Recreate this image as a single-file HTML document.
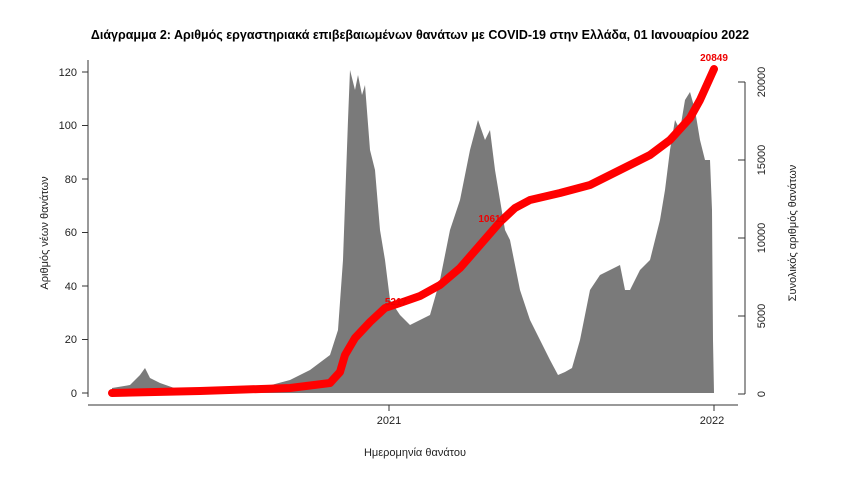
<!DOCTYPE html>
<html><head><meta charset="utf-8"><style>
body{margin:0;background:#fff}
svg text{font-family:"Liberation Sans","DejaVu Sans",sans-serif}
</style></head><body>
<svg width="851" height="475" viewBox="0 0 851 475" xmlns="http://www.w3.org/2000/svg">
<text x="420" y="39" font-size="12.5" font-weight="bold" text-anchor="middle">Διάγραμμα 2: Αριθμός εργαστηριακά επιβεβαιωμένων θανάτων με COVID-19 στην Ελλάδα, 01 Ιανουαρίου 2022</text>
<!-- bars -->
<path fill="#7a7a7a" d="M112,393 L112,388 130,385 140,375 145,368 150,378 160,383 180,390 220,391 260,388 290,380 310,370 330,355 338,330 343,260 348,120 350,70 355,90 358,75 362,95 365,85 370,150 375,170 380,230 385,260 390,300 400,315 410,325 420,320 430,315 440,280 450,230 460,200 470,150 478,120 485,140 490,130 495,170 500,200 505,230 510,240 520,290 530,320 540,340 550,360 558,375 565,372 572,368 580,340 590,290 600,275 610,270 620,265 625,290 630,290 640,270 650,260 660,220 665,190 670,150 675,120 680,130 685,100 690,92 695,110 700,140 705,160 710,160 712,210 713,340 714,393 Z"/>
<!-- left axis -->
<g stroke="#333" stroke-width="1" fill="none">
<line x1="88" y1="60" x2="88" y2="397"/>
<line x1="82" y1="393" x2="88" y2="393"/><line x1="82" y1="339.5" x2="88" y2="339.5"/><line x1="82" y1="286" x2="88" y2="286"/><line x1="82" y1="232.5" x2="88" y2="232.5"/><line x1="82" y1="179" x2="88" y2="179"/><line x1="82" y1="125.5" x2="88" y2="125.5"/><line x1="82" y1="72" x2="88" y2="72"/>
<line x1="745" y1="82" x2="745" y2="394"/>
<line x1="738" y1="394" x2="745" y2="394"/><line x1="738" y1="316" x2="745" y2="316"/><line x1="738" y1="238" x2="745" y2="238"/><line x1="738" y1="160" x2="745" y2="160"/><line x1="738" y1="82" x2="745" y2="82"/>
<line x1="88" y1="405" x2="738" y2="405"/>
<line x1="389" y1="405" x2="389" y2="411"/><line x1="714" y1="405" x2="714" y2="411"/>
</g>
<g font-size="11" text-anchor="end" fill="#222">
<text x="77" y="397">0</text><text x="77" y="343">20</text><text x="77" y="290">40</text><text x="77" y="236">60</text><text x="77" y="183">80</text><text x="77" y="129">100</text><text x="77" y="76">120</text>
</g>
<g font-size="11" fill="#222" text-anchor="middle">
<text transform="translate(765,394) rotate(-90)">0</text>
<text transform="translate(765,316) rotate(-90)">5000</text>
<text transform="translate(765,238) rotate(-90)">10000</text>
<text transform="translate(765,160) rotate(-90)">15000</text>
<text transform="translate(765,82) rotate(-90)">20000</text>
<text x="389" y="424">2021</text><text x="712" y="424">2022</text>
<text x="415" y="456">Ημερομηνία θανάτου</text>
<text transform="translate(48,233) rotate(-90)">Αριθμός νέων θανάτων</text>
<text transform="translate(796,233) rotate(-90)">Συνολικός αριθμός θανάτων</text>
</g>
<path fill="none" stroke="#f00" stroke-width="8" stroke-linecap="round" stroke-linejoin="round" d="M112,393 L200,391 290,388 330,383 340,372 345,355 355,338 370,322 385,308 400,303 420,296 440,285 460,268 480,245 500,222 515,208 530,200 560,193 590,185 620,170 650,155 670,140 690,118 700,100 714,69"/>
<g fill="#e00" font-size="10" font-weight="bold" text-anchor="middle">
<text x="396" y="305">5217</text><text x="492" y="222">10611</text><text x="714" y="61">20849</text>
</g>
</svg>
</body></html>
